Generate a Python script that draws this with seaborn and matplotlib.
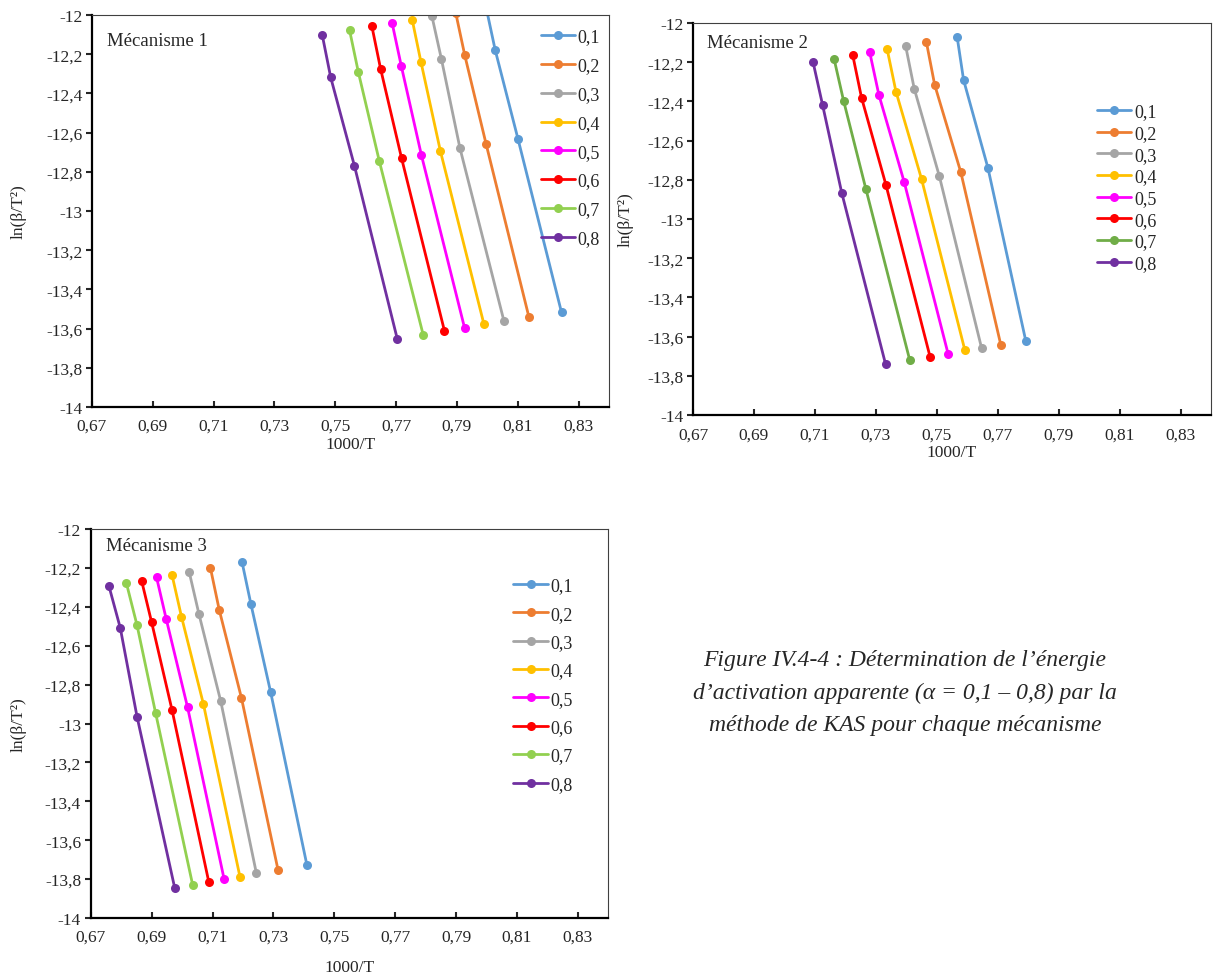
import numpy as np
import pandas as pd
import matplotlib.pyplot as plt
import seaborn as sns

# Taux de conversion (legende)
alphas = ["0,1", "0,2", "0,3", "0,4", "0,5", "0,6", "0,7", "0,8"]

# Mecanisme 1 : 1000/T et ln(beta/T^2), 4 vitesses par serie
m1_x = [
    [0.7996, 0.8026, 0.8101, 0.8244],
    [0.7896, 0.7926, 0.7996, 0.8137],
    [0.7818, 0.7849, 0.7910, 0.8055],
    [0.7753, 0.7782, 0.7846, 0.7989],
    [0.7687, 0.7717, 0.7783, 0.7925],
    [0.7620, 0.7649, 0.7718, 0.7859],
    [0.7547, 0.7576, 0.7645, 0.7789],
    [0.7457, 0.7485, 0.7563, 0.7704],
]
m1_y = [
    [-11.961, -12.179, -12.633, -13.517],
    [-11.988, -12.206, -12.658, -13.542],
    [-12.007, -12.224, -12.679, -13.563],
    [-12.024, -12.241, -12.696, -13.578],
    [-12.041, -12.259, -12.713, -13.595],
    [-12.054, -12.274, -12.730, -13.611],
    [-12.077, -12.292, -12.746, -13.631],
    [-12.100, -12.318, -12.769, -13.653],
]

# Mecanisme 2
m2_x = [
    [0.7567, 0.7588, 0.7668, 0.7792],
    [0.7466, 0.7493, 0.7579, 0.7710],
    [0.7398, 0.7426, 0.7508, 0.7647],
    [0.7337, 0.7366, 0.7450, 0.7592],
    [0.7280, 0.7310, 0.7393, 0.7537],
    [0.7224, 0.7253, 0.7333, 0.7478],
    [0.7163, 0.7194, 0.7267, 0.7411],
    [0.7094, 0.7125, 0.7188, 0.7332],
]
m2_y = [
    [-12.073, -12.291, -12.740, -13.621],
    [-12.098, -12.315, -12.762, -13.641],
    [-12.119, -12.335, -12.779, -13.658],
    [-12.133, -12.350, -12.796, -13.668],
    [-12.150, -12.367, -12.811, -13.687],
    [-12.163, -12.381, -12.825, -13.703],
    [-12.184, -12.396, -12.845, -13.718],
    [-12.200, -12.417, -12.866, -13.741],
]

# Mecanisme 3
m3_x = [
    [0.7197, 0.7226, 0.7291, 0.7410],
    [0.7093, 0.7122, 0.7195, 0.7315],
    [0.7023, 0.7055, 0.7127, 0.7244],
    [0.6967, 0.6998, 0.7070, 0.7190],
    [0.6916, 0.6948, 0.7018, 0.7138],
    [0.6867, 0.6900, 0.6967, 0.7088],
    [0.6817, 0.6852, 0.6913, 0.7035],
    [0.6760, 0.6797, 0.6852, 0.6976],
]
m3_y = [
    [-12.171, -12.386, -12.840, -13.728],
    [-12.200, -12.416, -12.869, -13.752],
    [-12.219, -12.435, -12.886, -13.770],
    [-12.237, -12.451, -12.900, -13.788],
    [-12.248, -12.464, -12.917, -13.800],
    [-12.266, -12.480, -12.931, -13.817],
    [-12.278, -12.495, -12.946, -13.832],
    [-12.295, -12.509, -12.965, -13.847],
]

x_ticks = [0.67, 0.69, 0.71, 0.73, 0.75, 0.77, 0.79, 0.81, 0.83]
x_labels = ["0,67", "0,69", "0,71", "0,73", "0,75", "0,77", "0,79", "0,81", "0,83"]
y_ticks = [-12, -12.2, -12.4, -12.6, -12.8, -13, -13.2, -13.4, -13.6, -13.8, -14]
y_labels = ["-12", "-12,2", "-12,4", "-12,6", "-12,8", "-13", "-13,2", "-13,4",
            "-13,6", "-13,8", "-14"]

pal_a = ["#5B9BD5", "#ED7D31", "#A5A5A5", "#FFC000", "#FF00FF", "#FF0000", "#92D050", "#7030A0"]
pal_b = ["#5B9BD5", "#ED7D31", "#A5A5A5", "#FFC000", "#FF00FF", "#FF0000", "#70AD47", "#7030A0"]

caption = ("Figure IV.4-4 : Détermination de l’énergie\n"
           "d’activation apparente (α = 0,1 – 0,8) par la\n"
           "méthode de KAS pour chaque mécanisme")

sns.set_theme(style="white")
plt.rcParams["font.family"] = ["Liberation Serif", "DejaVu Serif"]


def to_frame(xs, ys):
    rows = []
    for a, xv, yv in zip(alphas, xs, ys):
        for x, y in zip(xv, yv):
            rows.append({"alpha": a, "x": x, "y": y})
    return pd.DataFrame(rows)


def draw(ax, xs, ys, pal, title, title_pos, leg_anchor, leg_spacing, ylab_x, xlab_y):
    df = to_frame(xs, ys)
    sns.lineplot(data=df, x="x", y="y", hue="alpha", palette=pal, estimator=None,
                 sort=False, marker="o", markersize=6.5, markeredgewidth=0,
                 linewidth=2, ax=ax)
    ax.set_xlim(0.67, 0.84)
    ax.set_ylim(-14, -12)
    ax.set_xticks(x_ticks)
    ax.set_xticklabels(x_labels)
    ax.set_yticks(y_ticks)
    ax.set_yticklabels(y_labels)
    ax.tick_params(axis="x", direction="in", length=4, width=1.5, labelsize=12.5, pad=8,
                   bottom=True)
    ax.tick_params(axis="y", direction="out", length=4, width=1.5, labelsize=12.5, pad=3,
                   left=True)
    for s in ["left", "bottom"]:
        ax.spines[s].set_color("black")
        ax.spines[s].set_linewidth(1.6)
    for s in ["top", "right"]:
        ax.spines[s].set_color("#404040")
        ax.spines[s].set_linewidth(0.8)
    ax.set_xlabel("1000/T", fontsize=12.5)
    ax.set_ylabel("ln(β/T²)", fontsize=12.5)
    ax.yaxis.set_label_coords(ylab_x, 0.5)
    ax.xaxis.set_label_coords(0.5, xlab_y)
    ax.text(title_pos[0], title_pos[1], title, transform=ax.transAxes,
            fontsize=13.5, ha="left", va="center")
    ax.legend(loc="upper left", bbox_to_anchor=leg_anchor, frameon=False,
              fontsize=13, handlelength=1.9, handletextpad=0.15,
              labelspacing=leg_spacing, borderpad=0, borderaxespad=0)


fig = plt.figure(figsize=(12.15, 9.78), dpi=100)
ax1 = fig.add_axes([0.0757, 0.5828, 0.4255, 0.4008])
ax2 = fig.add_axes([0.5704, 0.5746, 0.4263, 0.4009])
ax3 = fig.add_axes([0.0747, 0.0603, 0.4260, 0.3978])

draw(ax1, m1_x, m1_y, pal_a, "Mécanisme 1", (0.029, 0.934), (0.868, 0.966), 0.655, -0.126, -0.075)
draw(ax2, m2_x, m2_y, pal_b, "Mécanisme 2", (0.0276, 0.951), (0.78, 0.795), 0.26, -0.114, -0.075)
draw(ax3, m3_x, m3_y, pal_a, "Mécanisme 3", (0.0296, 0.957), (0.8165, 0.876), 0.63, -0.123, -0.106)

fig.text(905 / 1215, 1 - 693 / 978, caption, ha="center", va="center",
         style="italic", fontsize=17, linespacing=1.7)

fig.savefig("out.png", dpi=100)
